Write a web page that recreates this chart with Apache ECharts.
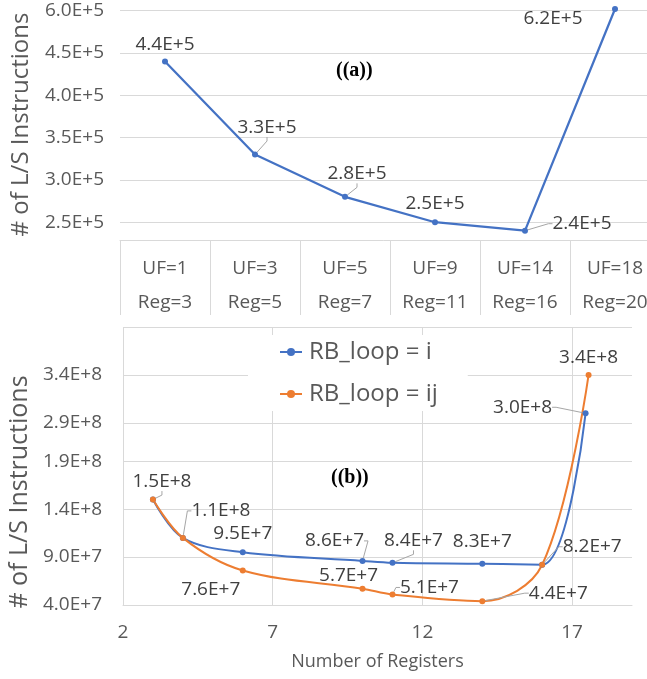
<!DOCTYPE html>
<html><head><meta charset="utf-8">
<script src="https://cdn.jsdelivr.net/npm/echarts@6/dist/echarts.min.js"></script>
<style>html,body{margin:0;padding:0;background:#fff}#c{width:647px;height:679px}</style>
</head><body><div id="c"></div>
<script>
// ---------- DATA ----------
// Panel (a)
const ufLabels = ['UF=1', 'UF=3', 'UF=5', 'UF=9', 'UF=14', 'UF=18'];
const regLabels = ['Reg=3', 'Reg=5', 'Reg=7', 'Reg=11', 'Reg=16', 'Reg=20'];
const lsCountA = [4.4e5, 3.3e5, 2.8e5, 2.5e5, 2.4e5, 6.2e5];
const yTicksA = [2.5e5, 3.0e5, 3.5e5, 4.0e5, 4.5e5, 6.0e5];

// Panel (b)
const seriesNamesB = ['RB_loop = i', 'RB_loop = ij'];
const regB_i = [3, 4, 6, 10, 11, 14, 16, 17.45];
const lsB_i = [1.5e8, 1.1e8, 9.5e7, 8.6e7, 8.4e7, 8.3e7, 8.2e7, 3.0e8];
const regB_ij = [3, 4, 6, 10, 11, 14, 16, 17.55];
const lsB_ij = [1.5e8, 1.1e8, 7.6e7, 5.7e7, 5.1e7, 4.4e7, 8.2e7, 3.4e8];
const xTicksB = [2, 7, 12, 17];
const yTicksB = [4.0e7, 9.0e7, 1.4e8, 1.9e8, 2.9e8, 3.4e8];
const yTopB = 3.9e8;

// ---------- STYLE / LAYOUT ----------
const FONT = 'Open Sans';
const AXIS_TXT = '#595959';
const LBL_TXT = '#404040';
const GRID_CLR = '#d9d9d9';
const BLUE = '#4472C4';
const ORANGE = '#ED7D31';
const FS = 19;

// label offsets (dx, dy relative to point centre) and leader-line flags
const offA = [[0, -17], [12, -27], [12, -23], [0, -19], [57, -7], [-62, 10]];
const leadA = [0, 1, 1, 0, 1, 0];
const showBi = [0, 0, 1, 1, 1, 1, 0, 1];
const offBi = [[0, 0], [0, 0], [0, -19], [-28, -20], [21, -22], [0, -22], [0, 0], [-63, -6]];
const leadBi = [0, 0, 0, 1, 1, 0, 0, 1];
const offBij = [[9, -18], [38, -27], [-32, 19], [-14, -13], [37, -7], [76, -8], [50, -18], [0, -17]];
const leadBij = [1, 1, 0, 0, 1, 1, 1, 0];
const offsets = [offA, offBi, offBij];

const fmt = v => v.toExponential(1).toUpperCase();

const labelBase = { show: true, position: 'inside', fontFamily: FONT, fontSize: FS, color: LBL_TXT, formatter: p => fmt(Array.isArray(p.value) ? p.value[1] : p.value) };
const lineBase = { show: true, smooth: false, length2: 4, lineStyle: { color: '#a6a6a6', width: 1 } };
const layoutFn = p => ({ dx: offsets[p.seriesIndex][p.dataIndex][0], dy: offsets[p.seriesIndex][p.dataIndex][1] });

const dataA = lsCountA.map((v, i) => ({ value: v, labelLine: { show: !!leadA[i] } }));
const dataBi = regB_i.map((x, i) => ({ value: [x, lsB_i[i]], label: { show: !!showBi[i] }, labelLine: { show: !!leadBi[i] } }));
const dataBij = regB_ij.map((x, i) => ({ value: [x, lsB_ij[i]], labelLine: { show: !!leadBij[i] } }));

const chart = echarts.init(document.getElementById('c'), null, { renderer: 'canvas' });
chart.setOption({
  animation: false,
  backgroundColor: '#fff',
  textStyle: { fontFamily: FONT },
  title: [
    { text: '((a))', left: 336, top: 61, padding: 0, textStyle: { fontFamily: 'Liberation Serif', fontWeight: 'bold', fontSize: 20, color: '#000' } },
    { text: '((b))', left: 331, top: 468, padding: 0, textStyle: { fontFamily: 'Liberation Serif', fontWeight: 'bold', fontSize: 20, color: '#000' } }
  ],
  legend: {
    data: seriesNamesB,
    orient: 'vertical',
    left: 248, top: 335,
    backgroundColor: '#fff',
    padding: [5, 30, 5, 31],
    itemGap: 18,
    itemWidth: 22, itemHeight: 10,
    textStyle: { fontFamily: FONT, fontSize: 24, color: AXIS_TXT, padding: [0, 0, 0, 2] }
  },
  grid: [
    { left: 120, top: 9, width: 540, height: 231, outerBoundsMode: 'none' },
    { left: 123, top: 327, width: 509, height: 278, outerBoundsMode: 'none' }
  ],
  xAxis: [
    {
      gridIndex: 0, type: 'category', data: ufLabels, boundaryGap: true,
      axisLine: { show: true, lineStyle: { color: GRID_CLR, width: 1 } },
      axisTick: { show: true, interval: 0, length: 75, lineStyle: { color: GRID_CLR, width: 1 } },
      axisLabel: { interval: 0, margin: 12, fontFamily: FONT, fontSize: FS, color: AXIS_TXT, lineHeight: 34,
        formatter: (v, i) => v + '\n' + regLabels[i] },
      splitLine: { show: false }
    },
    {
      gridIndex: 1, type: 'value', min: 2, max: 19,
      name: 'Number of Registers', nameLocation: 'middle', nameGap: 48,
      nameTextStyle: { fontFamily: FONT, fontSize: 18, color: AXIS_TXT },
      axisLine: { show: true, lineStyle: { color: GRID_CLR, width: 1 } },
      axisTick: { show: false, customValues: xTicksB },
      axisLabel: { customValues: xTicksB, margin: 18, fontFamily: FONT, fontSize: FS, color: AXIS_TXT },
      splitLine: { show: true, lineStyle: { color: GRID_CLR, width: 1 } }
    }
  ],
  yAxis: [
    {
      gridIndex: 0, type: 'value', min: 2.29e5, max: 6.2e5,
      breaks: [{ start: 5.0e5, end: 6.18e5, gap: 0 }],
      breakArea: { show: false },
      name: '# of L/S Instructions', nameLocation: 'middle', nameGap: 87,
      nameTextStyle: { fontFamily: FONT, fontSize: 24, color: AXIS_TXT },
      axisLine: { show: false },
      axisTick: { show: false, customValues: yTicksA },
      axisLabel: { customValues: yTicksA, margin: 16, fontFamily: FONT, fontSize: FS, color: AXIS_TXT, formatter: v => fmt(v) },
      splitLine: { show: true, lineStyle: { color: GRID_CLR, width: 1 } }
    },
    {
      gridIndex: 1, type: 'value', min: 4.0e7, max: yTopB,
      breaks: [{ start: 2.0e8, end: 2.6e8, gap: 0 }],
      breakArea: { show: false },
      name: '# of L/S Instructions', nameLocation: 'middle', nameGap: 87,
      nameTextStyle: { fontFamily: FONT, fontSize: 25, color: AXIS_TXT, padding: [0, 52, 0, 0] },
      axisLine: { show: false },
      axisTick: { show: false, customValues: yTicksB.concat([yTopB]) },
      axisLabel: { customValues: yTicksB, margin: 21, fontFamily: FONT, fontSize: FS, color: AXIS_TXT, formatter: v => fmt(v) },
      splitLine: { show: true, lineStyle: { color: GRID_CLR, width: 1 } }
    }
  ],
  series: [
    {
      name: 'L/S (a)', type: 'line', xAxisIndex: 0, yAxisIndex: 0, data: dataA,
      symbol: 'circle', symbolSize: 6, clip: false,
      lineStyle: { color: BLUE, width: 2.25 }, itemStyle: { color: BLUE },
      label: labelBase, labelLine: lineBase, labelLayout: layoutFn
    },
    {
      name: seriesNamesB[0], type: 'line', xAxisIndex: 1, yAxisIndex: 1, data: dataBi,
      smooth: 0.35, symbol: 'circle', symbolSize: 6, clip: false,
      lineStyle: { color: BLUE, width: 2 }, itemStyle: { color: BLUE },
      label: labelBase, labelLine: lineBase, labelLayout: layoutFn
    },
    {
      name: seriesNamesB[1], type: 'line', xAxisIndex: 1, yAxisIndex: 1, data: dataBij,
      smooth: 0.35, symbol: 'circle', symbolSize: 6, clip: false,
      lineStyle: { color: ORANGE, width: 2 }, itemStyle: { color: ORANGE },
      label: labelBase, labelLine: lineBase, labelLayout: layoutFn
    }
  ]
});
</script>
</body></html>
